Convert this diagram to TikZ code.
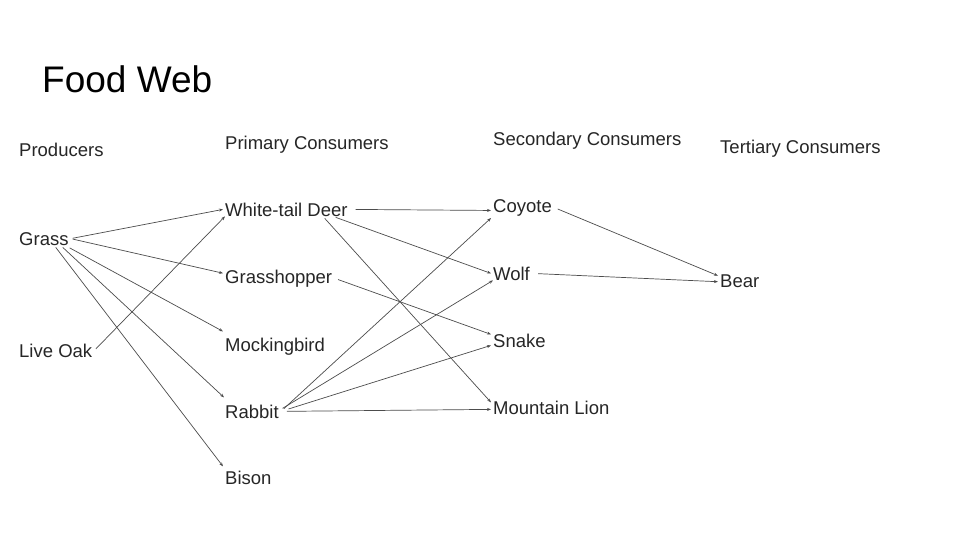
\documentclass[tikz,border=0pt]{standalone}
\usepackage{fontspec}
\setmainfont{Liberation Sans}
\usetikzlibrary{arrows.meta}
\begin{document}
\begin{tikzpicture}[x=1pt,y=-1pt,
  lbl/.style={anchor=base west,inner sep=2pt,font=\fontsize{18.5}{22}\selectfont,text=black!85},
  link/.style={draw=black!70,line width=0.7pt,-{Stealth[length=4pt,width=3pt]}}]
\useasboundingbox[fill=white] (0,0) rectangle (960,540);
\node[anchor=base west,inner sep=0pt,font=\fontsize{37}{40}\selectfont] (title) at (42,93) {Food Web};
\node[lbl] (prod) at (17,157) {Producers};
\node[lbl] (prim) at (223,150) {Primary Consumers};
\node[lbl] (sec) at (491,146) {Secondary Consumers};
\node[lbl] (tert) at (718,154) {Tertiary Consumers};
\node[lbl] (grass) at (17,245) {Grass};
\node[lbl] (oak) at (17,357) {Live Oak};
\node[lbl] (deer) at (223,216) {White-tail Deer};
\node[lbl] (hopper) at (223,283) {Grasshopper};
\node[lbl] (mock) at (223,351) {Mockingbird};
\node[lbl] (rabbit) at (223,418) {Rabbit};
\node[lbl] (bison) at (223,484) {Bison};
\node[lbl] (coyote) at (491,212) {Coyote};
\node[lbl] (wolf) at (491,280) {Wolf};
\node[lbl] (snake) at (491,347) {Snake};
\node[lbl] (lion) at (491,414) {Mountain Lion};
\node[lbl] (bear) at (718,287) {Bear};
% producers
\draw[link,shorten <=2pt] (grass.east) -- (deer.west);
\draw[link,shorten <=2pt] (grass.east) -- ([yshift=5pt]hopper.west);
\draw[link,shorten <=1pt] ([xshift=-2pt]grass.south east) -- ([yshift=4pt]mock.north west);
\draw[link] ([xshift=-8pt]grass.south east) -- ([yshift=5pt,xshift=1pt]rabbit.north west);
\draw[link] ([xshift=-15pt]grass.south east) -- ([yshift=2pt]bison.north west);
\draw[link,shorten <=2pt] (oak.east) -- ([xshift=2pt,yshift=2pt]deer.south west);
% primary -> secondary
\draw[link,shorten <=6pt] (deer.east) -- ([yshift=-3pt]coyote.west);
\draw[link] ([xshift=-14pt,yshift=1pt]deer.south east) -- (wolf.west);
\draw[link] ([xshift=-25pt]deer.south east) -- ([yshift=5pt]lion.west);
\draw[link,shorten <=4pt] (hopper.east) -- ([yshift=6pt]snake.west);
\draw[link,shorten <=4pt] (rabbit.east) -- (coyote.south west);
\draw[link,shorten <=2pt] ([yshift=2pt]rabbit.east) -- ([xshift=2pt,yshift=2pt]wolf.south west);
\draw[link,shorten <=8pt] (rabbit.east) -- ([yshift=4pt]snake.south west);
\draw[link,shorten <=6pt] (rabbit.east) -- ([yshift=-2pt]lion.west);
% secondary -> tertiary
\draw[link,shorten <=4pt] (coyote.east) -- ([yshift=5pt]bear.west);
\draw[link,shorten <=6pt] (wolf.east) -- ([yshift=-1pt]bear.west);
\end{tikzpicture}
\end{document}
